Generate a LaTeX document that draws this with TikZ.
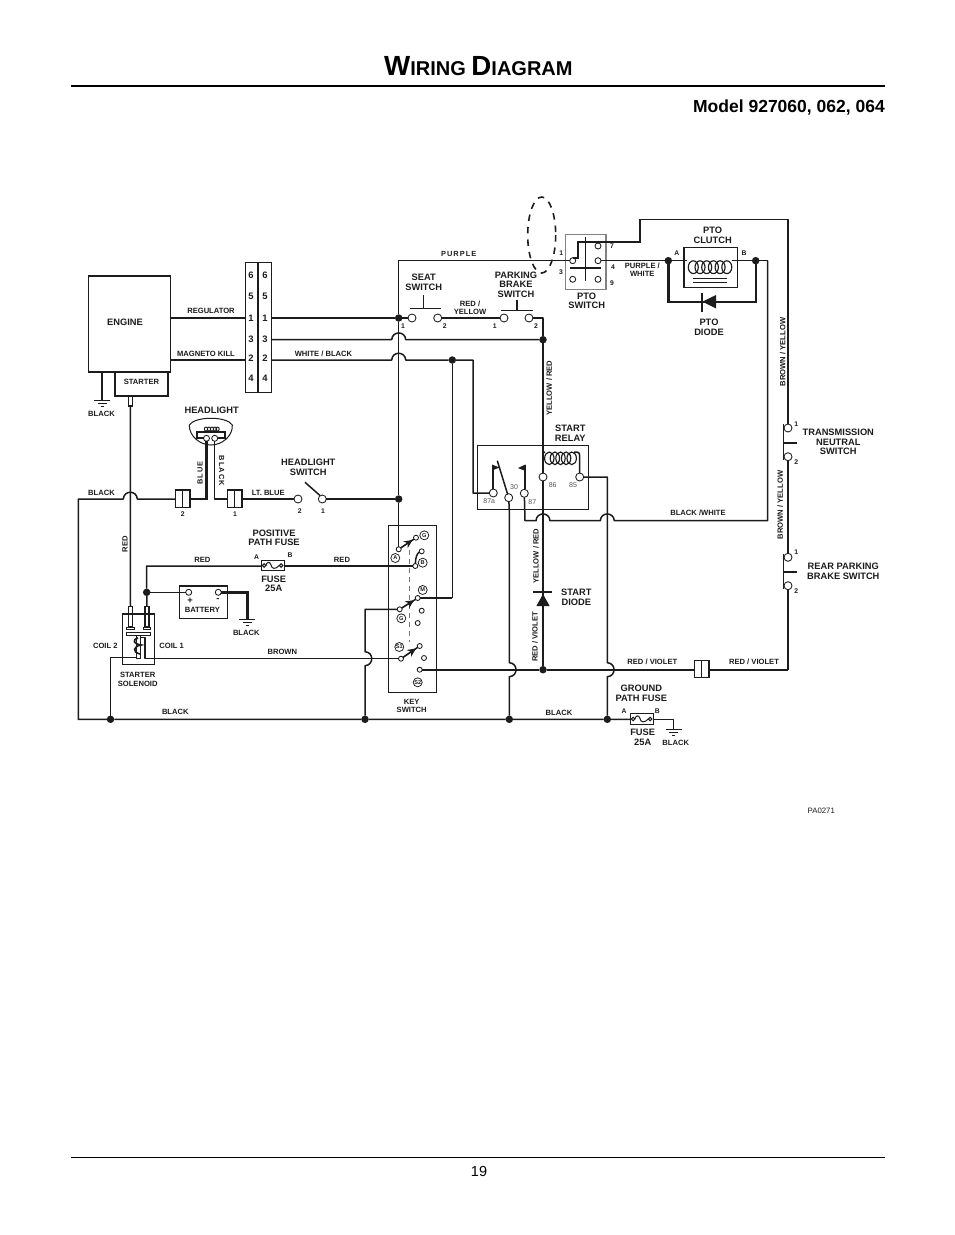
\documentclass[tikz,border=0pt]{standalone}
\usepackage{fontspec}
\setmainfont{Liberation Sans}
\newfontfamily\spacedfont[LetterSpace=14]{Liberation Sans}
\usetikzlibrary{calc,fit,arrows.meta}
\definecolor{ink}{HTML}{1C1C1C}
\tikzset{
  w/.style={draw=ink,line width=1.5pt,line join=round},
  tw/.style={draw=ink,line width=2.4pt,line join=miter},
  thinw/.style={draw=ink,line width=1pt},
  boxs/.style={draw=ink,line width=1.05pt,inner sep=0pt,outer sep=0pt,fill=none},
  ct/.style={circle,draw=ink,fill=white,line width=.85pt,inner sep=0pt,outer sep=0pt,minimum size=8pt},
  cts/.style={ct,minimum size=5pt},
  jd/.style={circle,fill=ink,inner sep=0pt,outer sep=0pt,minimum size=7.5pt},
  lab/.style={inner sep=0pt,text=ink,align=center,font=\bfseries\fontsize{7.6}{8.3}\selectfont},
  big/.style={inner sep=0pt,text=ink,align=center,font=\bfseries\fontsize{9.3}{9.6}\selectfont},
  pin/.style={inner sep=0pt,text=ink,font=\bfseries\fontsize{6.8}{8}\selectfont},
  rel/.style={inner sep=0pt,text=ink!75,font=\fontsize{7}{8}\selectfont},
  num/.style={inner sep=0pt,text=ink,font=\bfseries\fontsize{9.4}{10}\selectfont},
  circ/.style={circle,draw=ink,line width=.75pt,inner sep=0pt,minimum size=9pt,text=ink,font=\bfseries\fontsize{5.6}{6}\selectfont},
  spaced/.style={inner sep=0pt,text=ink,font=\spacedfont\bfseries\fontsize{7.4}{8}\selectfont},
  darr/.style={-{Stealth[length=8.5pt,width=8pt]},draw=ink,line width=1.1pt},
}
\newcommand\bx[6]{\path (#2,#3) coordinate (#1-a) (#4,#5) coordinate (#1-b);
  \node[boxs,#6,fit=(#1-a)(#1-b)] (#1) {};}
\newcommand\hh[2]{-- (#1-7,#2) .. controls (#1-6.5,#2-9) and (#1+6.5,#2-9) .. (#1+7,#2)}
\newcommand\vh[2]{-- (#1,#2-7) .. controls (#1+9,#2-6.5) and (#1+9,#2+6.5) .. (#1,#2+7)}
\newcommand\gndsym[2]{\draw[thinw] (#1-8,#2) -- (#1+8,#2) (#1-4.5,#2+3) -- (#1+4.5,#2+3) (#1-1.5,#2+6) -- (#1+1.5,#2+6);}
\newcommand\fusein[2]{\begin{scope}[shift={(#1,#2)}]
  \draw[thinw] (2.8,0) circle[radius=1.8pt] (19.8,0) circle[radius=1.8pt];
  \draw[thinw] (4.6,0) .. controls (5.5,-4) and (8.5,-4) .. (9.5,-1) .. controls (10.5,4) and (14,4) .. (18,0);
\end{scope}}
\begin{document}
\begin{tikzpicture}[x=1pt,y=-1pt]
\useasboundingbox (0,0) rectangle (954,1235);
\fill[white] (0,0) rectangle (954,1235);
% header and footer
\node[anchor=base west,inner sep=0pt,text=black,font=\bfseries] (title) at (384,75) {\fontsize{27.7}{28}\selectfont W\fontsize{20}{28}\selectfont IRING \fontsize{27.7}{28}\selectfont D\fontsize{20}{28}\selectfont IAGRAM};
\coordinate (rtl) at (71,85.5); \coordinate (rtr) at (885,85.5);
\draw[black,line width=2pt] (rtl) -- (rtr);
\node[anchor=base east,inner sep=0pt,text=black,font=\bfseries\fontsize{17.5}{18}\selectfont] (model) at (885,112) {Model 927060, 062, 064};
\coordinate (rbl) at (71,1157.5); \coordinate (rbr) at (885,1157.5);
\draw[black,line width=.8pt] (rbl) -- (rbr);
\node[inner sep=0pt,text=black,font=\fontsize{14.5}{15}\selectfont] (pageno) at (479,1171) {19};

% boxes
\bx{eng}{88.3}{276}{170.3}{372}{}
\bx{sta}{115}{372}{168}{396}{}
\bx{stc}{128.3}{396}{132.3}{406}{}
\bx{blk}{245.7}{262.3}{271.7}{392.3}{}
\bx{pto}{565.7}{234.7}{606}{289.3}{draw=ink!55}
\bx{clu}{684}{247.3}{737.7}{287.3}{}
\bx{rly}{477.3}{445.3}{588.3}{509.3}{}
\bx{key}{388.3}{525.3}{436.3}{692.3}{}
\bx{bat}{179.3}{586}{227.3}{618.3}{}
\bx{sol}{122.3}{614}{154.3}{664.3}{}
\bx{cn2}{175.3}{490}{190}{507.7}{}
\bx{cn1}{227.3}{490}{242}{507.7}{}
\bx{cn3}{694.3}{660.3}{709}{677.7}{}
\bx{fuP}{261.3}{560.7}{284.3}{570.3}{}
\bx{fuG}{630.3}{713.5}{653.3}{724.5}{}
\bx{po1}{128.5}{606.7}{132.5}{627}{}
\bx{po2}{145}{606.7}{149}{627}{}

% junctions
\node[jd] (dp) at (398.7,318) {};
\node[jd] (dh) at (398.7,499) {};
\node[jd] (d3) at (543,339.7) {};
\node[jd] (d2) at (452.3,360) {};
\node[jd] (dA) at (668.3,260.7) {};
\node[jd] (dB) at (755.7,260.7) {};
\node[jd] (db) at (146.7,592.3) {};
\node[jd] (d5) at (543,669.7) {};
\node[jd] (g1) at (110.5,719.3) {};
\node[jd] (g2) at (365,719.3) {};
\node[jd] (g3) at (509.3,719.3) {};
\node[jd] (g4) at (607.3,719.3) {};
% contacts
\node[ct] (s1) at (412,318) {};
\node[ct] (s2) at (437.7,318) {};
\node[ct] (b1) at (504,318) {};
\node[ct] (b2) at (529,318) {};
\node[cts,minimum size=6pt] (p1) at (572.7,260.7) {};
\node[cts,minimum size=6pt] (p7) at (598,246) {};
\node[cts,minimum size=6pt] (p4) at (598,260.7) {};
\node[cts,minimum size=6pt] (p3) at (572.7,279.3) {};
\node[cts,minimum size=6pt] (p9) at (598,279.3) {};
\node[ct] (r7a) at (493.3,493) {};
\node[ct] (r30) at (508.7,497.7) {};
\node[ct] (r87) at (524.3,493.3) {};
\node[ct] (r86) at (543,477) {};
\node[ct] (r85) at (579.7,477) {};
\node[ct] (hs2) at (298,499) {};
\node[ct] (hs1) at (322.3,499) {};
\node[cts,minimum size=6pt] (bp) at (188.7,592.3) {};
\node[cts,minimum size=6pt] (bm) at (218.3,592.3) {};
\node[ct] (t1) at (788,428) {};
\node[ct] (t2) at (788,456.7) {};
\node[ct] (q1) at (788,557.3) {};
\node[ct] (q2) at (788,585.7) {};
\node[cts] (kA) at (398.7,549.3) {};
\node[cts] (kG1) at (416,537.7) {};
\node[cts] (kB) at (415.3,566) {};
\node[cts] (kB2) at (421.7,551.3) {};
\node[cts] (kM) at (417.7,598) {};
\node[cts] (kG2) at (399.7,609.3) {};
\node[cts] (kX1) at (421.7,610.7) {};
\node[cts] (kX2) at (417.7,623) {};
\node[cts] (kS1) at (401,658.7) {};
\node[cts] (kX3) at (419.7,646) {};
\node[cts] (kX4) at (424,658) {};
\node[cts] (kS2) at (419.7,669.7) {};

% engine wiring
\draw[w] (dp -| eng.east) -- (dp -| blk.west);
\draw[w] (dp -| blk.east) -- (dp);
\draw[w] (blk.east |- d3) \hh{398.7}{339.7} -- (d3);
\draw[w] (eng.east |- d2) -- (blk.west |- d2);
\draw[w] (blk.east |- d2) \hh{398.7}{360} -- (d2) -- (473,360) -- (473,493) -- (r7a);
\draw[w] (d2) -- (d2 |- kM);
\draw[tw] (d2 |- kM) -- (kM);
\draw[w] (dp) -- (398.7,260.7) -- (p1);
\draw[w] (dp) -- (dh) -- (kA);
\draw[line width=2pt,draw=ink] (258,263) -- (258,392);
\draw[line width=1.7pt,draw=ink] (102,372) -- (102,400);
\gndsym{102}{400}
% seat and brake switches
\draw[w] (dp) -- (s1);
\draw[w] (s2) -- (b1);
\draw[w] (b2) -- (543,318) -- (d3) -- (r86);
\coordinate (sbL) at (410,308); \coordinate (sbR) at (441,308); \coordinate (sbT) at (423.3,295); \coordinate (sbM) at (423.3,308);
\draw[thinw] (sbL) -- (sbR); \draw[thinw] (sbT) -- (sbM);
\coordinate (pbL) at (501,310); \coordinate (pbR) at (532.7,310); \coordinate (pbT) at (516.7,300); \coordinate (pbM) at (516.7,310);
\draw[thinw] (pbL) -- (pbR); \draw[line width=1.6pt,draw=ink] (pbT) -- (pbM);
% PTO switch
\draw[thinw] (585.7,237) -- (585.7,281.3);
\draw[line width=2pt,draw=ink] (570,267.7) -- (601,267.7);
\draw[line width=2pt,draw=ink] (p1.north) -- (578.3,257.7) -- (578.3,242) -- (639.7,242) -- (639.7,219.3);
\draw[w] (639.7,219.3) -- (788,219.3) -- (t1);
\draw[w] (p4) -- (dA) -- (686.5,260.7);
\draw[w] (731.7,260.7) -- (dB) -- (767.7,260.7);
% PTO clutch coil
\foreach \cx in {693.3,700,706.7,713.4,720.1,726.8} \draw[line width=1.15pt,draw=ink] (\cx,267.2) ellipse[x radius=5,y radius=6.4];
\draw[thinw] (693,278.3) -- (726.7,278.3);
\draw[thinw] (693,282.3) -- (726.7,282.3);
% PTO diode
\draw[tw] (dA) -- (668.3,301.7) -- (755.7,301.7) -- (dB);
\draw[line width=2pt,draw=ink] (701.7,293.3) -- (701.7,312);
\fill[ink] (702.5,301.7) -- (716,295) -- (716,308.4) -- cycle;
% dashed loop
\coordinate (ell) at (541.7,235);
\draw[draw=ink,line width=1.6pt,dash pattern=on 6.5pt off 6pt] (ell) ellipse[x radius=14,y radius=38];
% relay
\foreach \cx in {549.3,554.9,560.5,566.1,571.7} \draw[line width=1.15pt,draw=ink] (\cx,458.3) ellipse[x radius=4.7,y radius=6.3];
\draw[w] (r86) -- (543,453) -- (545,452);
\draw[w] (574,452) -- (577,452) .. controls (579.7,452) and (579.7,454) .. (579.7,457) -- (r85);
\draw[line width=1.7pt,draw=ink] (r7a.north -| 492.7,0) -- (492.7,465);
\fill[ink] (492,464.5) -- (499.5,467.5) -- (492,470.5) -- cycle;
\draw[w] (497.3,460.7) -- (r30);
\draw[line width=1.7pt,draw=ink] (r87.north -| 525,0) -- (525,465);
\fill[ink] (525.5,464.5) -- (518,468) -- (525.5,471) -- cycle;
\draw[w] (r87) -- (525,520.7) \hh{543}{520.7} \hh{607.3}{520.7} -- (767.7,520.7) -- (767.7,260.7);
\draw[w] (r85) -- (607.3,477) \vh{607.3}{669.7} -- (g4);
\draw[w] (r30) -- (509.3,510) \vh{509.3}{669.7} -- (g3);
% start diode
\coordinate (sd) at (543,592.3);
\draw[w] (r86) -- (sd);
\draw[tw] (sd) -- (d5);
\draw[line width=2.2pt,draw=ink] (533.3,592.3) -- (552.3,592.3);
\fill[ink] (543,594) -- (549.6,606) -- (536.4,606) -- cycle;
% S2 / red-violet run
\draw[tw] (kS2) -- (d5) -- (cn3.west |- d5);
\draw[tw] (cn3.east |- d5) -- (788,669.7);
\draw[w] (788,669.7) -- (q2);
\draw[w] (t2) -- (q1);
\draw[thinw] (701.7,660.3) -- (701.7,677.7);
\draw[w] (783.7,424) -- (783.7,460);
\draw[line width=1.8pt,draw=ink] (783.7,443) -- (796.7,443);
\draw[w] (783.7,553.5) -- (783.7,589);
\draw[line width=1.8pt,draw=ink] (783.7,572) -- (796.7,572);
% black perimeter
\coordinate (ca) at (78.3,499);
\draw[w] (cn2.west |- ca) -- (137.3,499) .. controls (136.8,490) and (123.8,490) .. (123.3,499) -- (ca) -- (78.3,719.3) -- (g1) -- (g2) -- (g3) -- (g4) -- (fuG.west |- g4);
\draw[w] (fuG.east |- g4) -- (673.7,719.3) -- (673.7,729);
\gndsym{673.7}{729}
\fusein{630.3}{719}
\draw[thinw] (182.7,490) -- (182.7,507.7);
\draw[thinw] (234.7,490) -- (234.7,507.7);
% headlight
\draw[thinw] (189.3,425) .. controls (195,416) and (227,416) .. (232.3,425) .. controls (233,436) and (222,445) .. (211,445) .. controls (200,445) and (189,436) .. (189.3,425) -- cycle;
\node[cts,minimum size=6pt] (hl1) at (206.5,438.3) {};
\node[cts,minimum size=6pt] (hl2) at (214.7,438.3) {};
\draw[line width=1.7pt,draw=ink] (hl1.west) -- (197,438.3) -- (197,431.7) -- (225,431.7) -- (225,438.3) -- (hl2.east);
\foreach \cx in {206,209,212,215,217.5} \draw[line width=.9pt,draw=ink] (\cx,429) ellipse[x radius=1.7,y radius=2];
\draw[tw] (hl1) -- (206.5,499) -- (cn2.east |- ca);
\draw[w] (hl2) -- (214.7,499) -- (cn1.west |- ca);
\draw[tw] (cn1.east |- ca) -- (hs2);
\draw[w] (hs1) -- (dh);
\coordinate (armA) at (305,482.3); \coordinate (armB) at (320,495.5);
\draw[w] (armA) -- (armB);
% red wires
\draw[w] (stc.south) -- (po1.north);
\draw[w] (po2.north) -- (db) -- (146.7,566) -- (fuP.west |- 0,566);
\draw[w] (fuP.east |- 0,566) -- (kB);
\fusein{261.3}{565.5}
\draw[w] (db) -- (bp);
\draw[tw] (bm) -- (247.3,592.3) -- (247.3,619);
\gndsym{247.3}{619}
% solenoid
\draw[thinw,fill=white] (126.7,627) -- (134.3,627) -- (134.3,629) -- (126.7,629) -- cycle;
\draw[thinw,fill=white] (143.2,627) -- (150.8,627) -- (150.8,629) -- (143.2,629) -- cycle;
\draw[line width=.9pt,draw=ink,fill=white] (126.5,632) rectangle (150.5,635);
\draw[line width=.9pt,draw=ink,fill=white] (136.7,635) rectangle (140,658);
\draw[line width=1.7pt,draw=ink] (138,638) .. controls (131.5,640) and (134,644) .. (141,645) .. controls (134,646) and (131.5,652) .. (140,654);
\draw[w] (140,637.5) -- (145,637.5) -- (145,658.7) -- (kS1);
\draw[w] (g1) -- (110.5,657.5) -- (137,657.5);
% key switch internals
\draw[draw=ink!60,line width=.9pt,dash pattern=on 5pt off 4pt] (409.7,550) -- (409.7,641.7);
\draw[w] (kA) -- (kG1);
\draw[darr] (kA) -- ($(kA)!.8!(kG1)$);
\draw[w] (kB) .. controls (415.5,558) and (417,553) .. (kB2);
\draw[w] (kG2) -- (kM);
\draw[darr] (kG2) -- ($(kG2)!.8!(kM)$);
\draw[w] (kS1) -- (kX3);
\draw[darr] (kS1) -- ($(kS1)!.8!(kX3)$);
\draw[w] (kG2) -- (365,609.3) \vh{365}{658.7} -- (g2);
% circled terminals
\node[circ] (cG1) at (424.3,535.3) {G};
\node[circ] (cA) at (395.3,558) {A};
\node[circ] (cB) at (422.7,562.7) {B};
\node[circ] (cM) at (422.7,590) {M};
\node[circ] (cG2) at (401.3,618.3) {G};
\node[circ] (cS1) at (399.3,647) {S1};
\node[circ] (cS2) at (417.7,682.3) {S2};

% labels
\node[big] (tEng) at (125,322) {ENGINE};
\node[lab] (tSta) at (141.5,382) {STARTER};
\node[lab] (tReg) at (211,311) {REGULATOR};
\node[lab] (tMag) at (206,354) {MAGNETO KILL};
\node[lab] (tWB) at (323.5,353.5) {WHITE / BLACK};
\node[lab] (tBk1) at (101.5,414) {BLACK};
\foreach \yy/\nn/\ii in {275.7/6/a,296.7/5/b,318/1/c,339/3/d,358/2/e,378/4/f} {
  \node[num] (nL\ii) at (251,\yy) {\nn};
  \node[num] (nR\ii) at (265,\yy) {\nn};
}
\node[big] (tHl) at (211.7,410.7) {HEADLIGHT};
\node[spaced,rotate=90] (tBlue) at (200,473) {BLUE};
\node[spaced,rotate=-90] (tBk2) at (221.7,470.7) {BLACK};
\node[big] (tHs) at (308.3,467.5) {HEADLIGHT\\SWITCH};
\node[lab] (tBk3) at (101.5,493) {BLACK};
\node[pin] (n2a) at (182.7,514) {2};
\node[pin] (n1a) at (235,514) {1};
\node[lab] (tLb) at (268.3,493) {LT. BLUE};
\node[pin] (n2b) at (299.7,511) {2};
\node[pin] (n1b) at (323,511) {1};
\node[lab,rotate=90] (tRed1) at (125,544) {RED};
\node[big] (tPp) at (274,537.7) {POSITIVE\\PATH FUSE};
\node[lab] (tRed2) at (202.3,560) {RED};
\node[lab] (tRed3) at (342,560) {RED};
\node[pin] (nA1) at (256.7,557) {A};
\node[pin] (nB1) at (290,555) {B};
\node[big] (tFu) at (273.7,583.7) {FUSE\\25A};
\node[lab] (tBat) at (202.3,610) {BATTERY};
\node[big] (tPl) at (190,600.5) {+};
\node[big] (tMi) at (218,600) {-};
\node[lab] (tBk4) at (246.3,633) {BLACK};
\node[lab] (tC2) at (105.3,646) {COIL 2};
\node[lab] (tC1) at (171.7,646) {COIL 1};
\node[lab] (tBr) at (282.3,652) {BROWN};
\node[lab] (tSS) at (137.7,679.5) {STARTER\\SOLENOID};
\node[lab] (tBk5) at (175.3,712) {BLACK};
\node[lab] (tKS) at (411.7,706) {KEY\\SWITCH};
\node[lab] (tBk6) at (559,713) {BLACK};
\node[spaced] (tPur) at (458.7,254) {PURPLE};
\node[big] (tSeat) at (423.7,282) {SEAT\\SWITCH};
\node[big] (tPark) at (516,284.5) {PARKING\\BRAKE\\SWITCH};
\node[lab] (tRY) at (470,308) {RED /\\YELLOW};
\node[pin] (ns1) at (403,326) {1};
\node[pin] (ns2) at (444.7,326) {2};
\node[pin] (nb1) at (494.7,326) {1};
\node[pin] (nb2) at (536,326) {2};
\node[pin] (np1) at (561.3,253) {1};
\node[pin] (np3) at (561,272) {3};
\node[pin] (np7) at (612,246) {7};
\node[pin] (np4) at (613,267) {4};
\node[pin] (np9) at (612,283) {9};
\node[big] (tPS) at (586.7,300.7) {PTO\\SWITCH};
\node[lab] (tPW) at (642.3,270) {PURPLE /\\WHITE};
\node[big] (tCl) at (712.7,235.5) {PTO\\CLUTCH};
\node[pin] (nA2) at (676.7,253) {A};
\node[pin] (nB2) at (744,253) {B};
\node[big] (tPD) at (709,327) {PTO\\DIODE};
\node[lab,rotate=90] (tBY1) at (782.7,352) {BROWN / YELLOW};
\node[lab,rotate=90] (tYR1) at (549.3,388) {YELLOW / RED};
\node[big] (tSR) at (570.3,433.5) {START\\RELAY};
\node[rel] (n7a) at (489.3,501) {87a};
\node[rel] (n30) at (514,487) {30};
\node[rel] (n87) at (532.3,502) {87};
\node[rel] (n86) at (552.7,485) {86};
\node[rel] (n85) at (573,485) {85};
\node[lab,rotate=90] (tYR2) at (536,556) {YELLOW / RED};
\node[lab,rotate=90] (tRV1) at (535,637) {RED / VIOLET};
\node[big] (tSD) at (576.3,597.5) {START\\DIODE};
\node[lab] (tBW) at (698,513) {BLACK /WHITE};
\node[pin] (nt1) at (796.3,423.7) {1};
\node[pin] (nt2) at (796.3,462) {2};
\node[big] (tTN) at (838.3,442) {TRANSMISSION\\NEUTRAL\\SWITCH};
\node[lab,rotate=90] (tBY2) at (780.3,505) {BROWN / YELLOW};
\node[pin] (nq1) at (796.3,552) {1};
\node[pin] (nq2) at (796.3,591) {2};
\node[big] (tRP) at (843.3,571.3) {REAR PARKING\\BRAKE SWITCH};
\node[lab] (tRV2) at (652.3,662) {RED / VIOLET};
\node[lab] (tRV3) at (754,662) {RED / VIOLET};
\node[big] (tGP) at (641.3,693.2) {GROUND\\PATH FUSE};
\node[pin] (nA3) at (624,711) {A};
\node[pin] (nB3) at (657.3,711) {B};
\node[big] (tFu2) at (642.7,737.5) {FUSE\\25A};
\node[lab] (tBk7) at (675.7,743) {BLACK};
\node[inner sep=0pt,text=ink,font=\fontsize{7.8}{8}\selectfont] (tPA) at (821.3,811.3) {PA0271};
\end{tikzpicture}
\end{document}
